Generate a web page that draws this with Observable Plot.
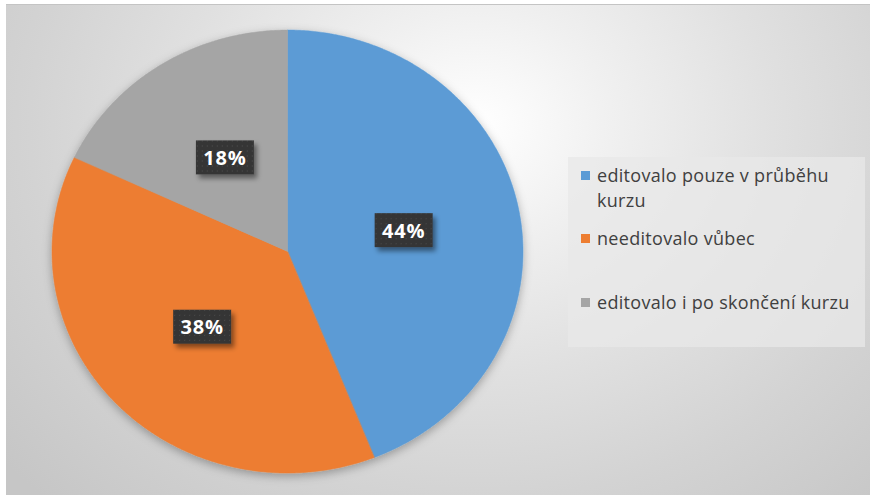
<!DOCTYPE html>
<html>
<head>
<meta charset="utf-8">
<script src="https://cdn.jsdelivr.net/npm/d3@7"></script>
<script src="https://cdn.jsdelivr.net/npm/@observablehq/plot@0.6"></script>
<style>
  html, body { margin: 0; padding: 0; background: #ffffff; }
  #wrap { position: relative; width: 870px; height: 495px; overflow: hidden; }
  #bg {
    position: absolute; left: 6px; top: 4px; width: 864px; height: 491px;
    background: radial-gradient(ellipse 620px 520px at 470px 120px, #ffffff 0%, #f0f0f0 22%, #e0e0e0 48%, #d3d3d3 72%, #c6c6c6 100%);
    border-top: 1px solid #c4c4c4;
    box-sizing: border-box;
  }
  #chart { position: absolute; left: 0; top: 0; }
  #legend {
    position: absolute; left: 568px; top: 157px; width: 297px; height: 190px;
    background: rgba(232,232,232,0.75);
    font-family: "Open Sans", sans-serif; font-size: 18px; letter-spacing: 0.3px; color: #404040;
  }
  .item { position: absolute; left: 29px; width: 266px; line-height: 25px; }
  .sw { position: absolute; left: 13px; width: 9px; height: 9px; }
  #err { position: absolute; left: 10px; top: 400px; color: red; font: 12px monospace; }
</style>
</head>
<body>
<div id="wrap">
  <div id="bg"></div>
  <div id="chart"></div>
  <div id="legend"></div>
  <div id="err"></div>
</div>
<script>
const categories = ["editovalo pouze v průběhu kurzu", "needitovalo vůbec", "editovalo i po skončení kurzu"];
const values = [44, 38, 18];
const labels = ["44%", "38%", "18%"];
const colors = ["#5B9BD5", "#ED7D31", "#A5A5A5"];

try {
const pie = d3.pie().sort(null).value(d => d.value)(categories.map((c, i) => ({cat: c, value: values[i], label: labels[i]})));

const slicePts = [];
for (const s of pie) {
  const n = Math.max(2, Math.ceil((s.endAngle - s.startAngle) / (Math.PI / 360)));
  for (let k = 0; k <= n; k++) {
    const a = s.startAngle + (s.endAngle - s.startAngle) * k / n;
    slicePts.push({cat: s.data.cat, x: Math.sin(a), y: Math.cos(a), cx: 0, cy: 0});
  }
}
const labelPts = pie.map(s => {
  const a = (s.startAngle + s.endAngle) / 2;
  return {label: s.data.label, x: 0.5 * Math.sin(a), y: 0.5 * Math.cos(a)};
});

const plot = Plot.plot({
  width: 870, height: 495,
  marginTop: 0, marginRight: 0, marginBottom: 0, marginLeft: 0,
  style: {background: "transparent", overflow: "visible"},
  x: {domain: [-1, 1], range: [52, 523], axis: null},
  y: {domain: [-1, 1], range: [473, 30], axis: null},
  color: {domain: categories, range: colors},
  marks: [
    Plot.area(slicePts, {x1: "x", y1: "y", x2: "cx", y2: "cy", z: "cat", fill: "cat", stroke: "cat", strokeWidth: 0.5}),
    Plot.text(labelPts, {x: "x", y: "y", text: "label", fill: "white", fontSize: 20, fontWeight: "bold", fontFamily: "Open Sans, sans-serif"})
  ]
});
document.getElementById("chart").appendChild(plot);

const ns = "http://www.w3.org/2000/svg";
function el(tag, attrs, parent) {
  const e = document.createElementNS(ns, tag);
  for (const k in attrs) e.setAttribute(k, attrs[k]);
  if (parent) parent.appendChild(e);
  return e;
}
const defs = el("defs", {});
const pat = el("pattern", {id: "dots", width: 5, height: 5, patternUnits: "userSpaceOnUse"}, defs);
el("rect", {width: 5, height: 5, fill: "#363636"}, pat);
el("rect", {x: 2, y: 2, width: 1, height: 1, fill: "#4a4a4a"}, pat);
const f1 = el("filter", {id: "boxsh", x: "-30%", y: "-30%", width: "170%", height: "180%"}, defs);
el("feDropShadow", {dx: 3, dy: 4, stdDeviation: 2.5, "flood-color": "#000", "flood-opacity": 0.45}, f1);
const f2 = el("filter", {id: "piesh", x: "-10%", y: "-10%", width: "120%", height: "125%"}, defs);
el("feDropShadow", {dx: 0, dy: 3, stdDeviation: 5, "flood-color": "#000", "flood-opacity": 0.3}, f2);
plot.insertBefore(defs, plot.firstChild);

const pieG = plot.querySelector('g[aria-label="area"]');
if (pieG) pieG.setAttribute("filter", "url(#piesh)");

const lblG = plot.querySelector('g[aria-label="text"]');
const texts = lblG ? lblG.querySelectorAll("text") : [];
texts.forEach(t => {
  t.setAttribute("letter-spacing", "0.8");
  const b = t.getBBox();
  const w = 58, h = 34;
  const cx = b.x + b.width / 2, cy = b.y + b.height / 2;
  const r = el("rect", {x: cx - w / 2, y: cy - h / 2, width: w, height: h, fill: "url(#dots)", filter: "url(#boxsh)"});
  const tr = t.getAttribute("transform");
  if (tr) r.setAttribute("transform", tr);
  t.parentNode.insertBefore(r, t);
});

const legend = document.getElementById("legend");
const tops = [5.5, 68.5, 132.5];
categories.forEach((c, i) => {
  const sw = document.createElement("div");
  sw.className = "sw";
  sw.style.top = (tops[i] + 8) + "px";
  sw.style.background = colors[i];
  legend.appendChild(sw);
  const it = document.createElement("div");
  it.className = "item";
  it.style.top = tops[i] + "px";
  it.textContent = c;
  legend.appendChild(it);
});
} catch (e) {
  document.getElementById("err").textContent = String(e && e.stack || e);
}
</script>
</body>
</html>
